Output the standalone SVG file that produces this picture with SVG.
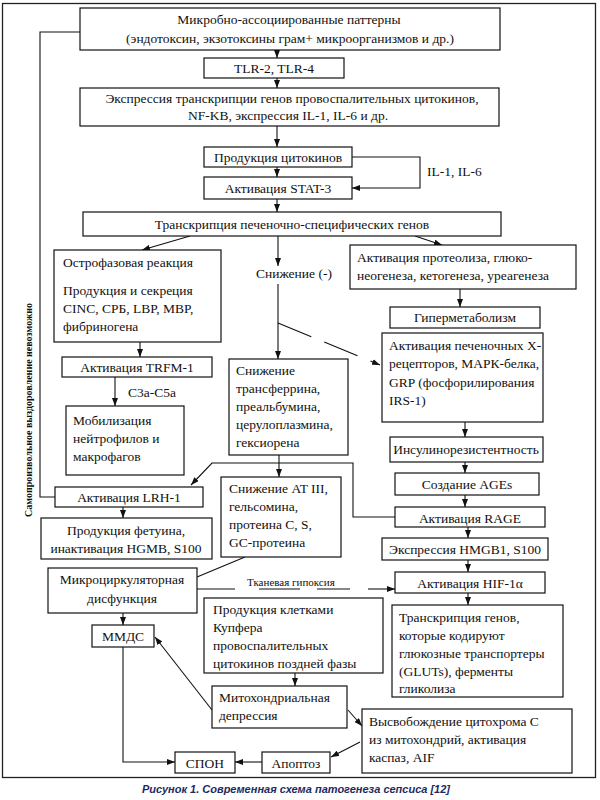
<svg xmlns="http://www.w3.org/2000/svg" width="600" height="800" viewBox="0 0 600 800">
<defs>
<marker id="ah" markerUnits="userSpaceOnUse" markerWidth="8" markerHeight="6" refX="8" refY="3" orient="auto">
<path d="M0,0 L8,3 L0,6 z" fill="#111"/>
</marker>
<style>
rect{fill:#fff;stroke:#111;stroke-width:1.2}
text{font-family:"Liberation Serif","Times New Roman",serif;font-size:13.5px;fill:#111}
.c{text-anchor:middle}
.s{font-size:11px}
.ln{fill:none;stroke:#111;stroke-width:1.1}
.ar{fill:none;stroke:#111;stroke-width:1.1;marker-end:url(#ah)}
.side{font-family:"Liberation Serif",serif;font-size:10px;font-weight:bold}
.cap{font-family:"Liberation Sans",Arial,sans-serif;font-size:11px;font-weight:bold;font-style:italic;fill:#1d2b5e}
</style>
</defs>
<rect x="2.5" y="3.5" width="593" height="774" style="fill:none;stroke:#222;stroke-width:1.3"/>

<g id="connectors">
<path class="ln" d="M80 32 H40 V497 H55"/>
<path class="ar" d="M277 50 V58"/>
<path class="ar" d="M277 78 V88"/>
<path class="ar" d="M277 126 V147"/>
<path class="ar" d="M277 167 V177"/>
<path class="ar" d="M352 157 H420 V188 H352"/>
<path class="ar" d="M277 199 V212"/>
<path class="ar" d="M190 236 L142 250"/>
<path class="ar" d="M278 236 V266"/>
<path class="ar" d="M278 284 V359"/>
<path class="ar" d="M415 236 L442 245"/>
<path class="ar" d="M278 323 L380 365" stroke-dasharray="36,14"/>
<path class="ar" d="M140 342 V357"/>
<path class="ar" d="M115 377 V406"/>
<path class="ar" d="M460 289 V307"/>
<path class="ar" d="M465 422 V437"/>
<path class="ar" d="M465 462 V473"/>
<path class="ar" d="M465 495 V507"/>
<path class="ar" d="M468 527 V538"/>
<path class="ar" d="M468 560 V572"/>
<path class="ar" d="M468 593 V605"/>
<path class="ar" d="M395 517 H353 V463 H212 L191 485"/>
<path class="ar" d="M279 455 V477"/>
<path class="ar" d="M123 507 V518"/>
<path class="ln" d="M245 557 L197 577"/>
<path class="ln" d="M197 589 H235 M259 589 H300 M317 589 H350"/>
<path class="ar" d="M368 589 H395"/>
<path class="ar" d="M123 613 V625"/>
<path class="ar" d="M123 647 V762 H175"/>
<path class="ar" d="M262 762 H235"/>
<path class="ar" d="M360 742 L331 757"/>
<path class="ar" d="M212 710 L155 637"/>
<path class="ar" d="M348 710 L362 726"/>
<path class="ar" d="M295 673 V686"/>
</g>

<g id="n1"><rect x="80" y="8" width="420" height="42"/>
<text class="c" x="289" y="24">Микробно-ассоциированные паттерны</text>
<text class="c" x="290" y="43">(эндотоксин, экзотоксины грам+ микроорганизмов и др.)</text></g>
<g id="n2"><rect x="204" y="58" width="140" height="20"/><text class="c" x="274" y="73">TLR-2, TLR-4</text></g>
<g id="n3"><rect x="80" y="88" width="419" height="38"/>
<text class="c" x="292" y="103">Экспрессия транскрипции генов провоспалительных цитокинов,</text>
<text class="c" x="288" y="120">NF-KB, экспрессия IL-1, IL-6 и др.</text></g>
<g id="n4"><rect x="204" y="147" width="148" height="20"/><text class="c" x="278" y="162">Продукция цитокинов</text></g>
<text x="427" y="176">IL-1, IL-6</text>
<g id="n5"><rect x="204" y="177" width="148" height="22"/><text class="c" x="278" y="193">Активация STAT-3</text></g>
<g id="n6"><rect x="83" y="212" width="418" height="24"/><text class="c" x="292" y="229">Транскрипция печеночно-специфических генов</text></g>
<g id="n7"><rect x="54" y="250" width="167" height="92"/>
<text x="63" y="267">Острофазовая реакция</text>
<text x="63" y="295">Продукция и секреция</text>
<text x="63" y="313">CINC, СРБ, LBP, MBP,</text>
<text x="63" y="331">фибриногена</text></g>
<text x="256" y="278">Снижение (-)</text>
<g id="n8"><rect x="350" y="245" width="226" height="44"/>
<text x="357" y="262">Активация протеолиза, глюко-</text>
<text x="357" y="280">неогенеза, кетогенеза, уреагенеза</text></g>
<g id="n9"><rect x="390" y="307" width="150" height="21"/><text class="c" x="465" y="322">Гиперметаболизм</text></g>
<g id="n10"><rect x="382" y="333" width="161" height="89"/>
<text x="389" y="350">Активация печеночных X-</text>
<text x="389" y="368">рецепторов, МАРК-белка,</text>
<text x="389" y="387">GRP (фосфорилирования</text>
<text x="389" y="405">IRS-1)</text></g>
<g id="n11"><rect x="62" y="357" width="150" height="20"/><text class="c" x="137" y="372">Активация TRFM-1</text></g>
<text x="128" y="397">C3a-C5a</text>
<g id="n12"><rect x="66" y="406" width="118" height="69"/>
<text x="73" y="425">Мобилизация</text>
<text x="73" y="443">нейтрофилов и</text>
<text x="73" y="461">макрофагов</text></g>
<g id="n13"><rect x="229" y="359" width="119" height="96"/>
<text x="236" y="375">Снижение</text>
<text x="236" y="393">трансферрина,</text>
<text x="236" y="411">преальбумина,</text>
<text x="236" y="429">церулоплазмина,</text>
<text x="236" y="447">гексиорена</text></g>
<g id="n14"><rect x="390" y="437" width="153" height="25"/><text class="c" x="466" y="454">Инсулинорезистентность</text></g>
<g id="n15"><rect x="395" y="473" width="144" height="22"/><text class="c" x="467" y="489">Создание AGEs</text></g>
<g id="n16"><rect x="55" y="487" width="148" height="20"/><text class="c" x="129" y="502">Активация LRH-1</text></g>
<g id="n17"><rect x="221" y="477" width="120" height="80"/>
<text x="229" y="493">Снижение AT III,</text>
<text x="229" y="511">гельсомина,</text>
<text x="229" y="529">протеина С, S,</text>
<text x="229" y="547">GC-протеина</text></g>
<g id="n18"><rect x="395" y="507" width="150" height="20"/><text class="c" x="470" y="523">Активация RAGE</text></g>
<g id="n19"><rect x="41" y="518" width="171" height="41"/>
<text class="c" x="126" y="535">Продукция фетуина,</text>
<text class="c" x="126" y="553">инактивация HGMB, S100</text></g>
<g id="n20"><rect x="382" y="538" width="166" height="22"/><text class="c" x="465" y="554">Экспрессия HMGB1, S100</text></g>
<g id="n21"><rect x="48" y="568" width="149" height="45"/>
<text class="c" x="122" y="584">Микроциркуляторная</text>
<text class="c" x="122" y="603">дисфункция</text></g>
<text class="s" x="247" y="586">Тканевая гипоксия</text>
<g id="n22"><rect x="395" y="572" width="150" height="21"/><text class="c" x="470" y="588">Активация HIF-1α</text></g>
<g id="n23"><rect x="204" y="598" width="179" height="75"/>
<text x="213" y="614">Продукция клетками</text>
<text x="213" y="632">Купфера</text>
<text x="213" y="650">провоспалительных</text>
<text x="213" y="668">цитокинов поздней фазы</text></g>
<g id="n24"><rect x="392" y="605" width="171" height="92"/>
<text x="399" y="622">Транскрипция генов,</text>
<text x="399" y="640">которые кодируют</text>
<text x="399" y="658">глюкозные транспортеры</text>
<text x="399" y="676">(GLUTs), ферменты</text>
<text x="399" y="693">гликолиза</text></g>
<g id="n25"><rect x="92" y="625" width="62" height="22"/><text class="c" x="123" y="641">ММДС</text></g>
<g id="n26"><rect x="212" y="686" width="135" height="42"/>
<text x="219" y="702">Митохондриальная</text>
<text x="219" y="720">депрессия</text></g>
<g id="n27"><rect x="362" y="709" width="210" height="64"/>
<text x="369" y="726">Высвобождение цитохрома С</text>
<text x="369" y="744">из митохондрий, активация</text>
<text x="369" y="762">каспаз, AIF</text></g>
<g id="n28"><rect x="175" y="752" width="60" height="21"/><text class="c" x="205" y="768">СПОН</text></g>
<g id="n29"><rect x="262" y="752" width="68" height="21"/><text class="c" x="296" y="768">Апоптоз</text></g>

<text class="side c" transform="translate(32,410) rotate(-90)">Самопроизвольное выздоровление невозможно</text>
<text class="cap c" x="296" y="793">Рисунок 1. Современная схема патогенеза сепсиса [12]</text>
</svg>
